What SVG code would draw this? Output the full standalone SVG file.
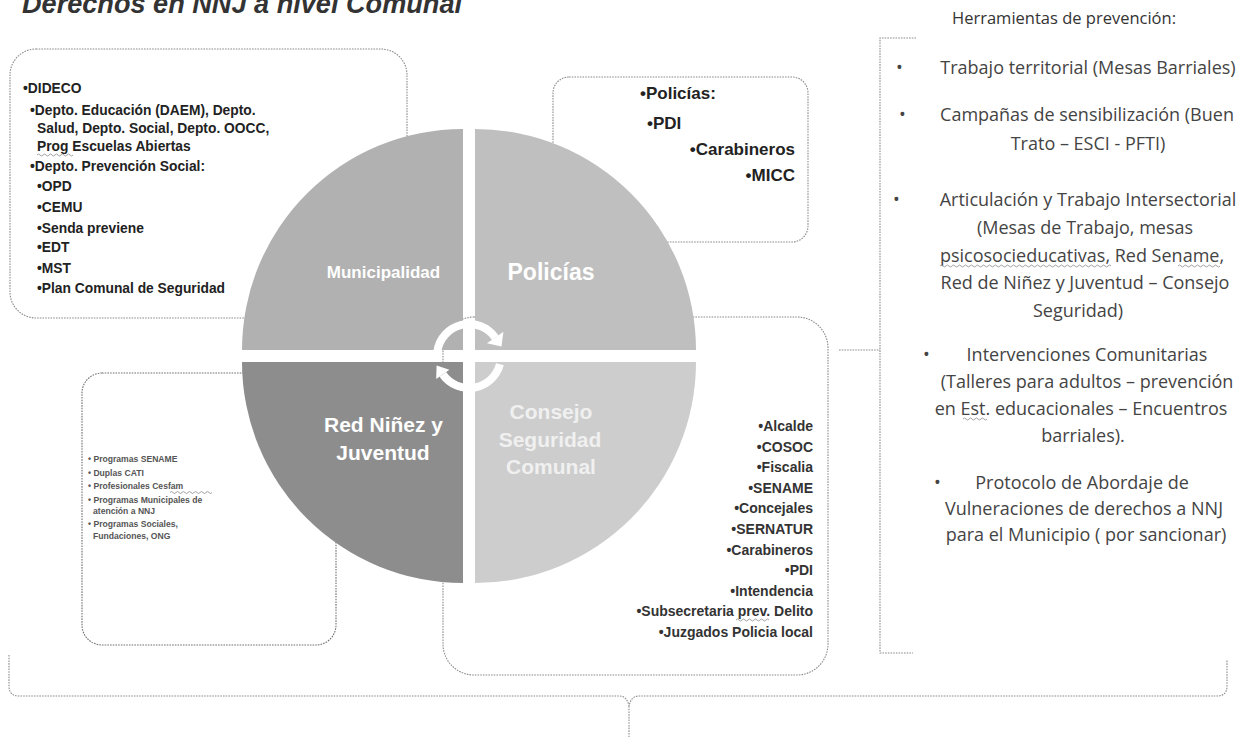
<svg xmlns="http://www.w3.org/2000/svg" width="1244" height="737" viewBox="0 0 1244 737">
<style>
.box{fill:#fff;stroke:#8c8c8c;stroke-width:1.1;stroke-dasharray:1.6 1.1}
.ln{fill:none;stroke:#8c8c8c;stroke-width:1.1;stroke-dasharray:1.6 1.1}
.sq{fill:none;stroke:#8a8a8a;stroke-width:0.8}
.t1{font-family:"Liberation Sans",Arial,sans-serif;font-weight:bold;font-size:13.8px;fill:#222}
.t2{font-family:"Liberation Sans",Arial,sans-serif;font-weight:bold;font-size:17px;fill:#222}
.t3{font-family:"Liberation Sans",Arial,sans-serif;font-weight:bold;font-size:8.6px;fill:#555}
.t4{font-family:"Liberation Sans",Arial,sans-serif;font-weight:bold;font-size:14px;fill:#333;text-anchor:end}
.tr{font-family:"Open Sans","Liberation Sans",sans-serif;font-size:18px;fill:#444;text-anchor:middle}
.bu{font-family:"Open Sans","Liberation Sans",sans-serif;font-size:18px;fill:#444}
.ql{font-family:"Liberation Sans",Arial,sans-serif;font-weight:bold;fill:#fff;text-anchor:middle}
</style>

<text x="22" y="13" font-family="Liberation Sans, Arial, sans-serif" font-weight="bold" font-style="italic" font-size="27" fill="#333" textLength="440" lengthAdjust="spacingAndGlyphs">Derechos en NNJ a nivel Comunal</text>

<g id="connectors">
  <path class="ln" d="M916,38 H880 V653 H913"/>
  <path class="ln" d="M839,350 H880"/>
  <path class="ln" d="M9,655 V686 Q9,696 19,696 H619 Q627,696 629,706 Q631,696 639,696 H1217 Q1227,696 1227,686 V660"/>
  <path class="ln" d="M629,706 V737"/>
</g>

<g id="box-municipalidad">
  <rect class="box" x="10" y="49" width="397" height="269" rx="26"/>
  <text class="t1" x="23" y="93">•DIDECO</text>
  <text class="t1" x="30" y="115">•Depto. Educación (DAEM), Depto.</text>
  <text class="t1" x="37" y="133">Salud, Depto. Social, Depto. OOCC,</text>
  <text class="t1" x="37" y="151">Prog Escuelas Abiertas</text>
  <path class="sq" d="M37,155 q1.5,-2 3,0 t3,0 t3,0 t3,0 t3,0 t3,0 t3,0 t3,0 t3,0 t3,0 t3,0 t3,0"/>
  <text class="t1" x="30" y="171">•Depto. Prevención Social:</text>
  <text class="t1" x="37" y="191">•OPD</text>
  <text class="t1" x="37" y="212">•CEMU</text>
  <text class="t1" x="37" y="233">•Senda previene</text>
  <text class="t1" x="37" y="252">•EDT</text>
  <text class="t1" x="37" y="273">•MST</text>
  <text class="t1" x="37" y="293">•Plan Comunal de Seguridad</text>
</g>

<g id="box-policias">
  <rect class="box" x="553" y="77" width="255" height="165" rx="16"/>
  <text class="t2" x="640" y="99">•Policías:</text>
  <text class="t2" x="647" y="129">•PDI</text>
  <text class="t2" x="795" y="155" text-anchor="end">•Carabineros</text>
  <text class="t2" x="795" y="181" text-anchor="end">•MICC</text>
</g>

<g id="box-red">
  <rect class="box" x="82" y="373" width="254" height="272" rx="20" style="stroke:#707070"/>
  <text class="t3" x="88" y="462">• Programas SENAME</text>
  <text class="t3" x="88" y="475.5">• Duplas CATI</text>
  <text class="t3" x="88" y="489">• Profesionales Cesfam</text>
  <path class="sq" d="M170,492.5 q1.5,-2 3,0 t3,0 t3,0 t3,0 t3,0 t3,0 t3,0 t3,0 t3,0 t3,0 t3,0 t3,0 t3,0 t3,0"/>
  <text class="t3" x="88" y="502.5">•  Programas Municipales de</text>
  <text class="t3" x="93" y="513.5">atención a NNJ</text>
  <text class="t3" x="88" y="527">• Programas Sociales,</text>
  <text class="t3" x="93" y="538.5">Fundaciones, ONG</text>
</g>

<g id="box-consejo">
  <rect class="box" x="443" y="317" width="385" height="358" rx="31"/>
  <text class="t4" x="813" y="431">•Alcalde</text>
  <text class="t4" x="813" y="451.6">•COSOC</text>
  <text class="t4" x="813" y="472.2">•Fiscalia</text>
  <text class="t4" x="813" y="492.8">•SENAME</text>
  <text class="t4" x="813" y="513.4">•Concejales</text>
  <text class="t4" x="813" y="534">•SERNATUR</text>
  <text class="t4" x="813" y="554.6">•Carabineros</text>
  <text class="t4" x="813" y="575.2">•PDI</text>
  <text class="t4" x="813" y="595.8">•Intendencia</text>
  <text class="t4" x="813" y="616.4">•Subsecretaria prev. Delito</text>
  <path class="sq" d="M736,620 q1.5,-2 3,0 t3,0 t3,0 t3,0 t3,0 t3,0 t3,0 t3,0 t3,0 t3,0 t3,0"/>
  <text class="t4" x="813" y="637">•Juzgados Policia local</text>
</g>

<g id="cycle">
  <path id="q-municipalidad" d="M463,350 L242,350 A221,221 0 0 1 463,129 Z" fill="#b1b1b1"/>
  <path id="q-policias" d="M475,350 L475,129 A221,221 0 0 1 696,350 Z" fill="#bfbfbf"/>
  <path id="q-red" d="M463,362 L463,583 A221,221 0 0 1 242,362 Z" fill="#8d8d8d"/>
  <path id="q-consejo" d="M475,362 L696,362 A221,221 0 0 1 475,583 Z" fill="#cdcdcd"/>
  <text class="ql" x="383.5" y="278" font-size="17">Municipalidad</text>
  <text class="ql" x="551" y="280" font-size="23">Policías</text>
  <text class="ql" x="383.5" y="432" font-size="21">Red Niñez y</text>
  <text class="ql" x="383" y="460" font-size="21">Juventud</text>
  <text class="ql" x="551" y="419" font-size="21" style="fill:#f0f0f0">Consejo</text>
  <text class="ql" x="550" y="447" font-size="21" style="fill:#f0f0f0">Seguridad</text>
  <text class="ql" x="551" y="474" font-size="21" style="fill:#f0f0f0">Comunal</text>
  <g id="arrows" fill="#fff">
    <path d="M437.3,351.5 A32,32 0 0 1 495.2,337.6" fill="none" stroke="#fff" stroke-width="8"/>
    <polygon points="503.4,331.8 487,343.3 501.5,346.5"/>
    <path d="M499.9,364.3 A32,32 0 0 1 442.8,374.4" fill="none" stroke="#fff" stroke-width="8"/>
    <polygon points="436.2,379.1 449.4,369.7 436.6,365.5"/>
  </g>
</g>

<g id="herramientas">
  <text x="1064" y="24" font-family="Open Sans, Liberation Sans, sans-serif" font-size="16.5" fill="#333" text-anchor="middle">Herramientas de prevención:</text>
  <text class="bu" x="896" y="74">•</text>
  <text class="tr" x="1088" y="74">Trabajo territorial (Mesas Barriales)</text>
  <text class="bu" x="899" y="121">•</text>
  <text class="tr" x="1087" y="121">Campañas de sensibilización (Buen</text>
  <text class="tr" x="1088" y="150">Trato – ESCI - PFTI)</text>
  <text class="bu" x="893" y="206">•</text>
  <text class="tr" x="1088" y="206">Articulación y Trabajo Intersectorial</text>
  <text class="tr" x="1085" y="234">(Mesas de Trabajo, mesas</text>
  <text class="tr" x="1082" y="261.5">psicosocieducativas, Red Sename,</text>
  <path class="sq" d="M940,266 q1.5,-2 3,0 t3,0 t3,0 t3,0 t3,0 t3,0 t3,0 t3,0 t3,0 t3,0 t3,0 t3,0 t3,0 t3,0 t3,0 t3,0 t3,0 t3,0 t3,0 t3,0 t3,0 t3,0 t3,0 t3,0 t3,0 t3,0 t3,0 t3,0 t3,0 t3,0 t3,0 t3,0 t3,0 t3,0 t3,0 t3,0 t3,0 t3,0 t3,0 t3,0 t3,0 t3,0 t3,0 t3,0 t3,0 t3,0 t3,0 t3,0 t3,0 t3,0 t3,0 t3,0 t3,0 t3,0 t3,0 t3,0 t3,0"/>
  <path class="sq" d="M1178,266 q1.5,-2 3,0 t3,0 t3,0 t3,0 t3,0 t3,0 t3,0 t3,0 t3,0 t3,0 t3,0 t3,0 t3,0 t3,0"/>
  <text class="tr" x="1085" y="289">Red de Niñez y Juventud – Consejo</text>
  <text class="tr" x="1078" y="317">Seguridad)</text>
  <text class="bu" x="923" y="361">•</text>
  <text class="tr" x="1087" y="361">Intervenciones Comunitarias</text>
  <text class="tr" x="1087" y="388">(Talleres para adultos – prevención</text>
  <text class="tr" x="1081" y="415">en Est. educacionales – Encuentros</text>
  <path class="sq" d="M963,419 q1.5,-2 3,0 t3,0 t3,0 t3,0 t3,0 t3,0 t3,0 t3,0"/>
  <text class="tr" x="1083" y="442">barriales).</text>
  <text class="bu" x="934" y="489">•</text>
  <text class="tr" x="1082" y="489">Protocolo de Abordaje de</text>
  <text class="tr" x="1084" y="515">Vulneraciones de derechos a NNJ</text>
  <text class="tr" x="1086" y="541">para el Municipio ( por sancionar)</text>
</g>
</svg>
